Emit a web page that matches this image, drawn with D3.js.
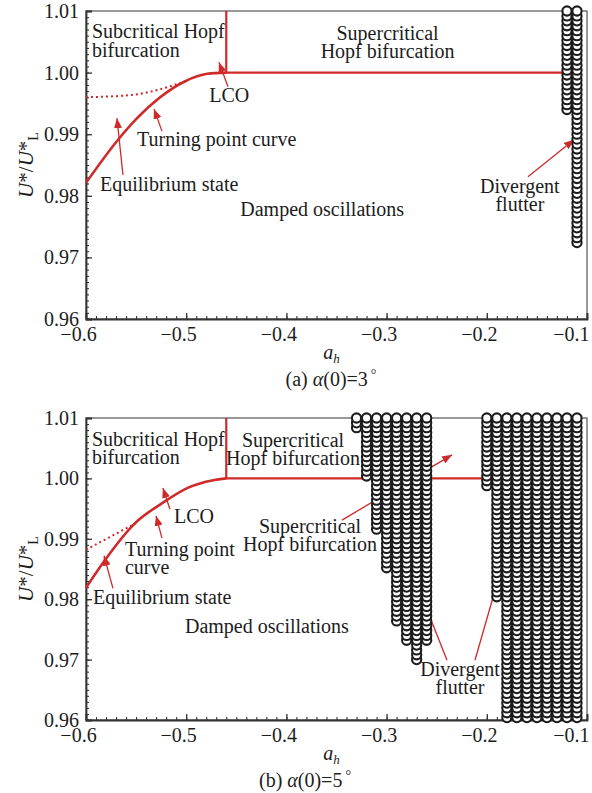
<!DOCTYPE html>
<html>
<head>
<meta charset="utf-8">
<script src="https://cdn.jsdelivr.net/npm/d3@7"></script>
<style>
  html, body { margin: 0; padding: 0; background: #fff; }
  svg { display: block; font-family: "Liberation Serif", "Times New Roman", serif; }
</style>
</head>
<body>
<svg id="chart" width="592" height="793"></svg>
<script>
// ---- axes ----
const xDomain = [-0.6, -0.1];
const yDomain = [0.96, 1.01];
const xTicks = [-0.6, -0.5, -0.4, -0.3, -0.2, -0.1];
const yTicks = [0.96, 0.97, 0.98, 0.99, 1.00, 1.01];

// ---- panel (a): alpha(0) = 3 deg ----
const aEqAh = [-0.6, -0.568, -0.549, -0.526, -0.501, -0.479, -0.46];
const aEqU  = [0.9821, 0.9891, 0.9926, 0.9960, 0.9986, 0.9998, 1.0000];
const aTpAh = [-0.6, -0.553, -0.526, -0.506, -0.5];
const aTpU  = [0.9960, 0.9964, 0.9973, 0.9983, 0.9986];
const aHopfAh = [-0.46, -0.12];          // sub/supercritical boundary a_h, end of 1.00 line
const aFlutterAh   = [-0.12, -0.11];     // divergent flutter columns
const aFlutterUMin = [0.9934, 0.9719];

// ---- panel (b): alpha(0) = 5 deg ----
const bEqAh = [-0.6, -0.581, -0.551, -0.524, -0.499, -0.473, -0.46];
const bEqU  = [0.9819, 0.9865, 0.9926, 0.9959, 0.9984, 0.9997, 1.0000];
const bTpAh = [-0.6, -0.55];
const bTpU  = [0.9882, 0.9926];
const bHopfAh = [-0.46, -0.11];
const bFlutterAh   = [-0.33, -0.32, -0.31, -0.30, -0.29, -0.28, -0.27, -0.26,
                      -0.20, -0.19, -0.18, -0.17, -0.16, -0.15, -0.14, -0.13, -0.12, -0.11];
const bFlutterUMin = [1.0078, 0.9998, 0.9916, 0.9850, 0.9760, 0.9728, 0.9697, 0.9728,
                      0.9988, 0.9797, 0.96, 0.96, 0.96, 0.96, 0.96, 0.96, 0.96, 0.96];

const flutterUMax = 1.01;
const flutterStep = 0.0008;   // speed increment of the stability scan

// ---- annotations (a_h, U*/U*_L) ----
const aLabels = [
  { lines: ["Subcritical Hopf", "bifurcation"], ah: -0.594, u: 1.0056, anchor: "start" },
  { lines: ["Supercritical", "Hopf bifurcation"], ah: -0.299, u: 1.0053, anchor: "middle" },
  { lines: ["LCO"], ah: -0.457, u: 0.9952, anchor: "middle" },
  { lines: ["Turning point curve"], ah: -0.549, u: 0.9881, anchor: "start" },
  { lines: ["Equilibrium state"], ah: -0.586, u: 0.9808, anchor: "start" },
  { lines: ["Damped oscillations"], ah: -0.446, u: 0.9767, anchor: "start" },
  { lines: ["Divergent", "flutter"], ah: -0.167, u: 0.9805, anchor: "middle" }
];
const aArrows = [
  { from: [-0.4583, 0.9977], to: [-0.4673, 1.0017] },
  { from: [-0.5242, 0.9905], to: [-0.5321, 0.9941] },
  { from: [-0.5631, 0.9834], to: [-0.5691, 0.9926] },
  { from: [-0.1589, 0.9831], to: [-0.1130, 0.9891] }
];
const bLabels = [
  { lines: ["Subcritical Hopf", "bifurcation"], ah: -0.594, u: 1.0054, anchor: "start" },
  { lines: ["Supercritical", "Hopf bifurcation"], ah: -0.3934, u: 1.0052, anchor: "middle" },
  { lines: ["LCO"], ah: -0.4922, u: 0.9926, anchor: "middle" },
  { lines: ["Turning point", "curve"], ah: -0.5611, u: 0.9872, anchor: "start" },
  { lines: ["Equilibrium state"], ah: -0.593, u: 0.9792, anchor: "start" },
  { lines: ["Damped oscillations"], ah: -0.5012, u: 0.9744, anchor: "start" },
  { lines: ["Supercritical", "Hopf bifurcation"], ah: -0.3764, u: 0.9910, anchor: "middle" },
  { lines: ["Divergent", "flutter"], ah: -0.2267, u: 0.9673, anchor: "middle" }
];
const bArrows = [
  { from: [-0.5162, 0.9949], to: [-0.5232, 0.9984] },
  { from: [-0.5242, 0.9901], to: [-0.5301, 0.9938] },
  { from: [-0.5731, 0.9818], to: [-0.5820, 0.9872] },
  { from: [-0.3445, 0.9931], to: [-0.2347, 1.0039] },
  { from: [-0.2397, 0.9699], to: [-0.2727, 0.9837] },
  { from: [-0.2118, 0.9699], to: [-0.1848, 0.9855] }
];

const RED = "#cf2a2a";
const INK = "#1c1c1c";
const AXIS = "#333";
const SERIF = "Liberation Serif, Times New Roman, serif";

const svg = d3.select("#chart");

svg.append("defs").append("marker")
  .attr("id", "head")
  .attr("markerUnits", "userSpaceOnUse")
  .attr("markerWidth", 11).attr("markerHeight", 8)
  .attr("refX", 10).attr("refY", 4)
  .attr("orient", "auto")
  .append("path")
  .attr("d", "M0,0 L10,4 L0,8 Z")
  .attr("fill", RED);

function drawPanel(cfg) {
  const x = d3.scaleLinear().domain(xDomain).range([86, 587]);
  const y = d3.scaleLinear().domain(yDomain).range([cfg.bottom, cfg.top]);
  const g = svg.append("g");

  // frame
  g.append("rect")
    .attr("x", x(xDomain[0])).attr("y", y(yDomain[1]))
    .attr("width", x(xDomain[1]) - x(xDomain[0]))
    .attr("height", y(yDomain[0]) - y(yDomain[1]))
    .attr("fill", "none").attr("stroke", "#555").attr("stroke-width", 1.2);

  // minor ticks
  const yMinor = d3.range(96, 101.001, 0.1).map(v => v / 100);
  const xMinor = d3.range(-60, -9.999, 1).map(v => v / 100);
  g.append("g").attr("transform", `translate(${x(xDomain[0])},0)`)
    .call(d3.axisLeft(y).tickValues(yMinor).tickSize(-3).tickFormat(""))
    .call(s => s.select(".domain").remove())
    .selectAll("line").attr("stroke", AXIS).attr("stroke-width", 1.1);
  g.append("g").attr("transform", `translate(0,${y(yDomain[0])})`)
    .call(d3.axisBottom(x).tickValues(xMinor).tickSize(-3).tickFormat(""))
    .call(s => s.select(".domain").remove())
    .selectAll("line").attr("stroke", AXIS).attr("stroke-width", 1.1);

  // major axes
  const yAxis = g.append("g").attr("transform", `translate(${x(xDomain[0])},0)`)
    .call(d3.axisLeft(y).tickValues(yTicks).tickSize(-6).tickPadding(7).tickFormat(d3.format(".2f")));
  const xAxis = g.append("g").attr("transform", `translate(0,${y(yDomain[0])})`)
    .call(d3.axisBottom(x).tickValues(xTicks).tickSize(-6).tickPadding(8).tickFormat(d3.format(".1f")));
  [yAxis, xAxis].forEach(a => {
    a.select(".domain").attr("stroke", AXIS).attr("stroke-width", 1.8);
    a.selectAll(".tick line").attr("stroke", AXIS).attr("stroke-width", 1.3);
    a.selectAll("text").attr("font-size", 20).attr("fill", INK).attr("font-family", SERIF);
  });
  // x tick labels sit a little left of their ticks; the last one is kept inside the page
  xAxis.selectAll(".tick text")
    .attr("dx", (d, i) => i === xTicks.length - 1 ? 2 : -8)
    .attr("text-anchor", (d, i) => i === xTicks.length - 1 ? "end" : "middle");

  // boundary between sub- and supercritical Hopf regions
  const hopf = cfg.hopfAh;
  g.append("path")
    .attr("d", d3.line()([[x(hopf[0]), y(1.01)], [x(hopf[0]), y(1.0)], [x(hopf[1]), y(1.0)]]))
    .attr("fill", "none").attr("stroke", RED).attr("stroke-width", 2.2);

  // turning point (dotted) and equilibrium (solid) curves
  const line = d3.line().x(d => x(d[0])).y(d => y(d[1])).curve(d3.curveMonotoneX);
  g.append("path")
    .attr("d", line(d3.zip(cfg.tpAh, cfg.tpU)))
    .attr("fill", "none").attr("stroke", RED).attr("stroke-width", 2)
    .attr("stroke-dasharray", "2,3");
  g.append("path")
    .attr("d", line(d3.zip(cfg.eqAh, cfg.eqU)))
    .attr("fill", "none").attr("stroke", RED).attr("stroke-width", 2.6);

  // labels
  cfg.labels.forEach(l => {
    const t = g.append("text")
      .attr("x", x(l.ah)).attr("y", y(l.u))
      .attr("text-anchor", l.anchor)
      .attr("font-size", 20).attr("fill", INK);
    l.lines.forEach((s, i) => {
      t.append("tspan").attr("x", x(l.ah)).attr("dy", i === 0 ? 0 : 18.5).text(s);
    });
  });

  // arrows
  cfg.arrows.forEach(a => {
    g.append("line")
      .attr("x1", x(a.from[0])).attr("y1", y(a.from[1]))
      .attr("x2", x(a.to[0])).attr("y2", y(a.to[1]))
      .attr("stroke", RED).attr("stroke-width", 1.3)
      .attr("marker-end", "url(#head)");
  });

  // divergent flutter points: lower speeds drawn first
  const pts = [];
  cfg.flutterAh.forEach((ah, i) => {
    d3.range(flutterUMax, cfg.flutterUMin[i] - 1e-9, -flutterStep)
      .forEach(u => pts.push([ah, u]));
  });
  pts.sort((p, q) => p[1] - q[1]);
  g.append("g").selectAll("circle").data(pts).join("circle")
    .attr("cx", d => x(d[0])).attr("cy", d => y(d[1]))
    .attr("r", 4.6)
    .attr("fill", "#fff").attr("stroke", INK).attr("stroke-width", 2.1);

  // axis titles
  const cy = (y(yDomain[0]) + y(yDomain[1])) / 2;
  const yt = g.append("text")
    .attr("transform", `translate(33,${cy}) rotate(-90)`)
    .attr("text-anchor", "middle").attr("font-size", 21).attr("fill", INK);
  yt.append("tspan").attr("font-style", "italic").text("U");
  yt.append("tspan").text("*/");
  yt.append("tspan").attr("font-style", "italic").text("U");
  yt.append("tspan").text("*");
  yt.append("tspan").attr("font-size", 14).attr("dy", 5).text("L");

  const xt = g.append("text")
    .attr("x", (x(xDomain[0]) + x(xDomain[1])) / 2 - 5).attr("y", y(yDomain[0]) + 40)
    .attr("text-anchor", "middle").attr("font-size", 20).attr("fill", INK)
    .attr("font-style", "italic");
  xt.append("tspan").text("a");
  xt.append("tspan").attr("font-size", 13).attr("dy", 4).text("h");

  const cap = g.append("text")
    .attr("x", cfg.captionX).attr("y", y(yDomain[0]) + 67)
    .attr("text-anchor", "middle").attr("font-size", 20).attr("fill", INK);
  cap.append("tspan").text(cfg.tag + " ");
  cap.append("tspan").attr("font-style", "italic").text("α");
  cap.append("tspan").text("(0)=" + cfg.angle);
  cap.append("tspan").attr("font-size", 14).attr("dy", -7).attr("dx", 3).text("°");
}

drawPanel({
  top: 11, bottom: 319,
  eqAh: aEqAh, eqU: aEqU, tpAh: aTpAh, tpU: aTpU, hopfAh: aHopfAh,
  flutterAh: aFlutterAh, flutterUMin: aFlutterUMin,
  labels: aLabels, arrows: aArrows,
  tag: "(a)", angle: "3", captionX: 331
});
drawPanel({
  top: 418, bottom: 720,
  eqAh: bEqAh, eqU: bEqU, tpAh: bTpAh, tpU: bTpU, hopfAh: bHopfAh,
  flutterAh: bFlutterAh, flutterUMin: bFlutterUMin,
  labels: bLabels, arrows: bArrows,
  tag: "(b)", angle: "5", captionX: 305
});
</script>
</body>
</html>
